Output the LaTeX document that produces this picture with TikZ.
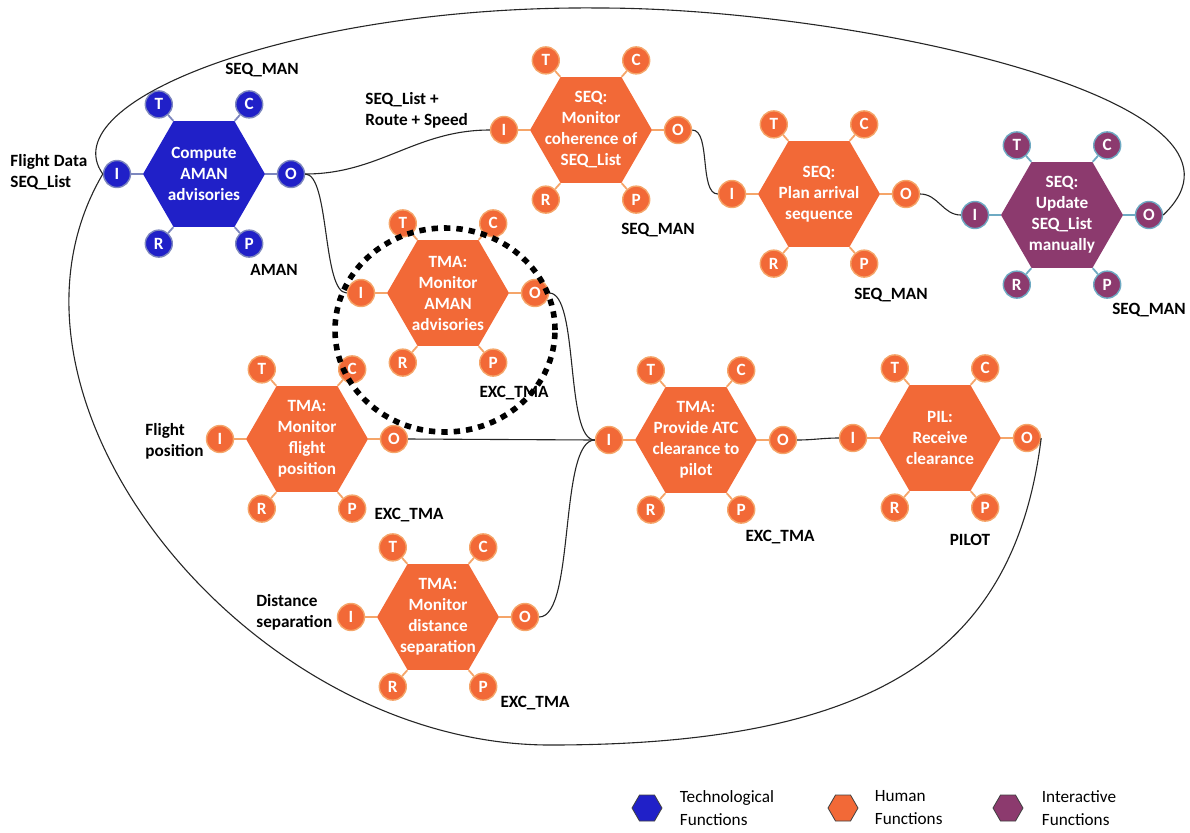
\documentclass[tikz,border=0pt]{standalone}
\usepackage{fontspec}
\setmainfont{Carlito}
\usetikzlibrary{positioning,shapes.geometric,calc}

\definecolor{techc}{RGB}{32,32,200}
\definecolor{techs}{RGB}{125,135,190}
\definecolor{humanc}{RGB}{242,105,55}
\definecolor{humans}{RGB}{245,165,105}
\definecolor{interc}{RGB}{140,58,110}
\definecolor{inters}{RGB}{110,170,195}

% one function: hexagon with its six aspects I O T C R P
\newcommand{\funchex}[4]{%
  \node[hexa, fill=#3c] (#1) at (#2) {};
  \node[hextext] (#1txt) at (#1) {#4};
  \foreach \p/\ang/\vx/\dist in {I/180/180/43.5pt, O/0/0/43.5pt, T/123/120/41.5pt,
                                 C/57/60/41.5pt, R/237/240/41.5pt, P/303/300/41.5pt}{
    \node[port, fill=#3c, draw=#3s] (#1\p) at ($(#1)+(\ang:\dist)$) {\p};
    \draw[stub, draw=#3s] (#1.\vx) -- (#1\p);
  }%
}

\begin{document}
\begin{tikzpicture}[x=0.5pt, y=-0.5pt,
    hexa/.style={regular polygon, regular polygon sides=6, minimum size=61pt, inner sep=0pt},
    hextext/.style={text=white, align=center, inner sep=0pt, font=\fontsize{8.6}{10.5}\selectfont\bfseries},
    port/.style={circle, minimum size=13.5pt, inner sep=0pt, line width=0.7pt, text=white, font=\fontsize{8.6}{10}\selectfont\bfseries},
    stub/.style={line width=0.9pt},
    wire/.style={black!85, line width=0.55pt},
    lbl/.style={align=left, inner sep=0pt, font=\fontsize{8.6}{10.5}\selectfont\bfseries},
    legendhex/.style={regular polygon, regular polygon sides=6, minimum size=15pt, inner sep=0pt, draw=black!75, line width=0.4pt},
    legendtext/.style={align=left, inner sep=0pt, font=\fontsize{8.6}{11.5}\selectfont},
    hilite/.style={line width=2.8pt, dash pattern=on 3.2pt off 3pt}]
    \useasboundingbox (0,0) rectangle (1190,832);
    % functions
    \funchex{cmp}{204,174}{tech}{Compute\\AMAN\\advisories}
    \funchex{smon}{591,130}{human}{SEQ:\\Monitor\\coherence of\\SEQ\_List}
    \funchex{splan}{819,194}{human}{SEQ:\\Plan arrival\\sequence}
    \funchex{supd}{1062,215}{inter}{SEQ:\\Update\\SEQ\_List\\manually}
    \funchex{tadv}{448,293}{human}{TMA:\\Monitor\\AMAN\\advisories}
    \funchex{tflt}{307,439}{human}{TMA:\\Monitor\\flight\\position}
    \funchex{tatc}{696,440}{human}{TMA:\\Provide ATC\\clearance to\\pilot}
    \funchex{pil}{940,438}{human}{PIL:\\Receive\\clearance}
    \funchex{tdist}{438,617}{human}{TMA:\\Monitor\\distance\\separation}
    % labels
    \node[lbl] (mSeqTop) at (262,70) {SEQ\_MAN};
    \node[lbl, anchor=west] (inCmp) at (10,172) {Flight Data\\SEQ\_List};
    \node[lbl] (mAman) at (274,270) {AMAN};
    \node[lbl, anchor=west] (inSmon) at (365,110) {SEQ\_List +\\Route + Speed};
    \node[lbl] (mSmon) at (658,230) {SEQ\_MAN};
    \node[lbl] (mSplan) at (891,295) {SEQ\_MAN};
    \node[lbl] (mSupd) at (1149,310) {SEQ\_MAN};
    \node[lbl] (mTadv) at (514,393) {EXC\_TMA};
    \node[lbl, anchor=west] (inTflt) at (145,441) {Flight\\position};
    \node[lbl] (mTflt) at (409,515) {EXC\_TMA};
    \node[lbl] (mTatc) at (780,537) {EXC\_TMA};
    \node[lbl] (mPil) at (970,540) {PILOT};
    \node[lbl, anchor=west] (inTdist) at (256,612) {Distance\\separation};
    \node[lbl] (mTdist) at (535,703) {EXC\_TMA};
    % lines
    \coordinate (looptop) at (600,8);
    \coordinate (loopbot) at (550,745);
    \draw[wire] (cmpI.west) .. controls (50,100) and (300,5) .. (looptop)
                .. controls (850,8) and (1285,100) .. (supdO.east);
    \draw[wire] (cmpI.west) .. controls (-30,400) and (250,745) .. (loopbot)
                .. controls (880,745) and (1015,650) .. (pilO.east);
    \draw[wire] (cmpO.east) to[out=0,in=180] (smonI.west);
    \draw[wire] (cmpO.east) to[out=0,in=180,looseness=0.5] (tadvI.west);
    \draw[wire] (smonO.east) to[out=0,in=180,looseness=0.7] (splanI.west);
    \draw[wire] (splanO.east) to[out=0,in=180] (supdI.west);
    \draw[wire] (tadvO.east) to[out=0,in=180,looseness=0.5] (tatcI.west);
    \draw[wire] (tfltO.east) -- (tatcI.west);
    \draw[wire] (tdistO.east) to[out=0,in=180,looseness=0.5] (tatcI.west);
    \draw[wire] (tatcO.east) to[out=0,in=180] (pilI.west);
    % highlight
    \draw[hilite] (445,330) ellipse [x radius=55pt, y radius=51pt];
    % legend
    \node[legendhex, fill=techc] (lgTech) at (647,808) {};
    \node[legendtext, right=8.5pt of lgTech] (lgTechTxt) {Technological\\Functions};
    \node[legendhex, fill=humanc] (lgHum) at (843,808) {};
    \node[legendtext, right=8pt of lgHum] (lgHumTxt) {Human\\Functions};
    \node[legendhex, fill=interc] (lgInt) at (1008,808) {};
    \node[legendtext, right=9pt of lgInt] (lgIntTxt) {Interactive\\Functions};
\end{tikzpicture}
\end{document}
